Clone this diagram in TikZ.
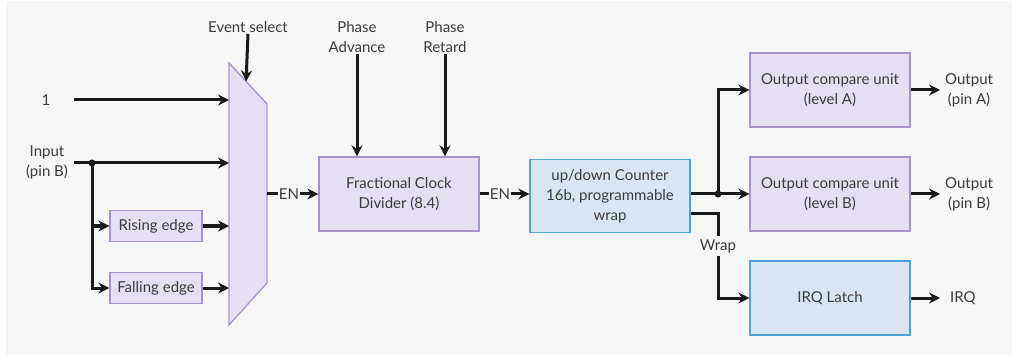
\documentclass[tikz,border=0pt]{standalone}
\usepackage{fontspec}
\setmainfont{Lato}
\usetikzlibrary{arrows.meta, positioning, calc}
\definecolor{bgwash}{RGB}{246,246,246}
\definecolor{blkfill}{RGB}{228,223,242}
\definecolor{blkline}{RGB}{168,146,204}
\definecolor{cntfill}{RGB}{217,229,243}
\definecolor{cntline}{RGB}{74,163,210}
\definecolor{txtgray}{RGB}{60,60,60}

\begin{document}
\begin{tikzpicture}[x=1pt, y=-1pt,
  font=\fontsize{15}{20}\selectfont,
  wire/.style={line width=3pt, black!90},
  sig/.style={wire, -{Stealth[length=11pt, width=11pt]}},
  blk/.style={draw=blkline, fill=blkfill, line width=1.3pt, minimum width=160pt,
    minimum height=74pt, align=center, text=txtgray, inner sep=0pt},
  cnt/.style={blk, draw=cntline, fill=cntfill},
  edgebox/.style={blk, minimum width=92pt, minimum height=31pt},
  lbl/.style={text=txtgray, align=center, inner sep=1pt}
]
\useasboundingbox (0,0) rectangle (1017,358);
\fill[bgwash, rounded corners=2pt] (6,1) rectangle (1012,355);

% inputs and event selector
\node[lbl] (one) at (46,100) {1};
\node[lbl] (inp) at (47,162) {Input\\(pin B)};
\coordinate (onesrc) at (74,100);
\coordinate (insrc) at (74,163);
\coordinate (split) at (92,163);
\node[lbl] (evsel) at (248,27) {Event select};

\coordinate (muxtl) at (229,63);
\coordinate (muxtr) at (267,104);
\coordinate (muxbr) at (267,283);
\coordinate (muxbl) at (229,325);
\draw[draw=blkline, fill=blkfill, line width=1.3pt]
  (muxtl) -- (muxtr) -- (muxbr) -- (muxbl) -- cycle;

\node[edgebox] (rise) at (156,226) {Rising edge};
\node[edgebox] (fall) at (156,288) {Falling edge};

\draw[sig] (onesrc) -- (onesrc -| muxtl);
\draw[sig] (insrc) -- (insrc -| muxtl);
\fill[black!90] (split) circle (3.5pt);
\draw[sig] (split) |- (rise.west);
\draw[sig] (split) |- (fall.west);
\draw[sig] (rise.east) -- (rise -| muxtl);
\draw[sig] (fall.east) -- (fall -| muxtl);
\draw[sig] (evsel.south) -- ($(muxtl)!0.45!(muxtr)$);

% clock divider
\node[lbl] (en1) at (289,194) {EN};
\node[blk] (div) at (399,194) {Fractional Clock\\Divider (8.4)};
\node[lbl] (padv) at (357,37) {Phase\\Advance};
\node[lbl] (pret) at (445,37) {Phase\\Retard};
\draw[wire] (muxtr |- en1) -- (en1.west);
\draw[sig] (en1.east) -- (div.west);
\draw[sig] (padv.south) -- (padv.south |- div.north);
\draw[sig] (pret.south) -- (pret.south |- div.north);

% counter
\node[lbl] (en2) at (500,194) {EN};
\node[cnt, minimum height=73pt] (cnt) at (610,196) {up/down Counter\\16b, programmable\\wrap};
\draw[wire] (div.east) -- (en2.west);
\draw[sig] (en2.east) -- (en2.east -| cnt.west);

% compare units and latch
\node[blk] (cmpa) at (830,90) {Output compare unit\\(level A)};
\node[blk] (cmpb) at (830,194) {Output compare unit\\(level B)};
\node[cnt] (irq) at (830,298) {IRQ Latch};
\coordinate (fork) at (718,194);
\draw[wire] (cnt.east |- fork) -- (fork);
\fill[black!90] (fork) circle (3.5pt);
\draw[sig] (fork) -- (cmpb.west);
\draw[sig] (fork) |- (cmpa.west);

\node[lbl, inner ysep=3pt] (wraplbl) at (718,246) {Wrap};
\draw[wire] ($(cnt.east)+(0,18)$) -| (wraplbl.north);
\draw[sig] (wraplbl.south) |- (irq.west);

% outputs
\node[lbl, anchor=west, inner xsep=5pt] (outa) at (940,90) {Output\\(pin A)};
\node[lbl, anchor=west, inner xsep=5pt] (outb) at (940,194) {Output\\(pin B)};
\node[lbl, anchor=west, inner xsep=10pt] (irqout) at (940,298) {IRQ};
\draw[sig] (cmpa.east) -- (outa.west);
\draw[sig] (cmpb.east) -- (outb.west);
\draw[sig] (irq.east) -- (irqout.west);
\end{tikzpicture}
\end{document}
